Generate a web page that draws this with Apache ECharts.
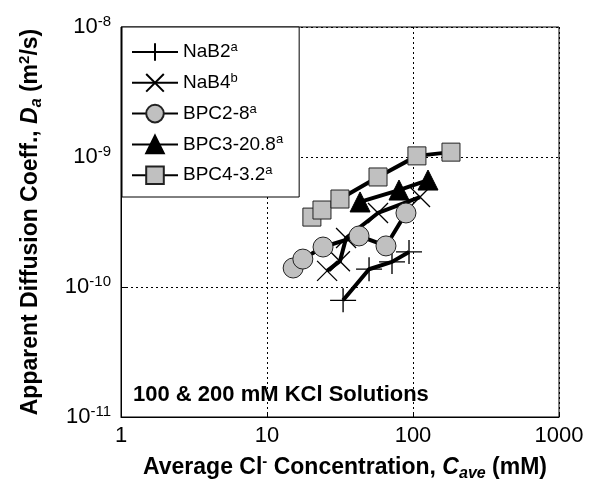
<!DOCTYPE html>
<html>
<head>
<meta charset="utf-8">
<script src="https://cdn.jsdelivr.net/npm/echarts@6/dist/echarts.min.js"></script>
<style>
html, body { margin: 0; padding: 0; background: #fff; }
#chart { width: 589px; height: 493px; }
</style>
</head>
<body>
<div id="chart"></div>
<script>
// series names and the superscript note of each
var seriesNames = ['NaB2', 'NaB4', 'BPC2-8', 'BPC3-20.8', 'BPC4-3.2'];
var seriesNotes = ['a', 'b', 'a', 'a', 'a'];

// Cave (mM) and Da (m2/s)
var nab2X = [33.2, 50, 71.8, 93.9];
var nab2Y = [7.9e-11, 1.37e-10, 1.56e-10, 1.86e-10];
var nab4X = [25.8, 31.6, 34.8, 57.6, 111.7];
var nab4Y = [1.33e-10, 1.58e-10, 2.38e-10, 3.71e-10, 4.92e-10];
var bpc2X = [15.1, 17.6, 24.2, 42.7, 65.3, 89.5];
var bpc2Y = [1.40e-10, 1.64e-10, 2.03e-10, 2.47e-10, 2.07e-10, 3.71e-10];
var bpc3X = [43.4, 80.2, 126.7];
var bpc3Y = [4.51e-10, 5.57e-10, 6.65e-10];
var bpc4X = [20.3, 23.8, 31.6, 57.6, 106.4, 182];
var bpc4Y = [3.45e-10, 3.91e-10, 4.75e-10, 7.02e-10, 1.02e-9, 1.09e-9];

var xTicks = [1, 10, 100, 1000];
var yTicks = [1e-11, 1e-10, 1e-9, 1e-8];

function pairs(xs, ys) {
  return xs.map(function (x, i) { return [x, ys[i]]; });
}

var plusPath = 'path://M10,0 L10,20 M0,10 L20,10';
var crossPath = 'path://M0,0 L20,20 M20,0 L0,20';

var titleRich = {
  b: { fontSize: 23, fontWeight: 'bold', lineHeight: 28, color: '#000' },
  i: { fontSize: 23, fontWeight: 'bold', fontStyle: 'italic', lineHeight: 28, color: '#000' },
  sup: { fontSize: 15, fontWeight: 'bold', lineHeight: 12, verticalAlign: 'top', color: '#000' },
  sub: { fontSize: 16, fontWeight: 'bold', fontStyle: 'italic', lineHeight: 12, verticalAlign: 'bottom', color: '#000' }
};

var dom = document.getElementById('chart');
var myChart = echarts.init(dom, null, { renderer: 'canvas' });

var option = {
  animation: false,
  textStyle: { fontFamily: 'Liberation Sans, Arial, sans-serif' },
  grid: {
    left: 121, right: 30, top: 27, bottom: 76,
    show: true, borderColor: '#000', borderWidth: 1
  },
  legend: {
    orient: 'vertical',
    left: 122, top: 27,
    padding: [14, 16, 12, 9],
    itemWidth: 46, itemHeight: 22, itemGap: 10,
    backgroundColor: '#fff',
    borderColor: '#000', borderWidth: 1,
    data: seriesNames,
    formatter: function (name) {
      return '{n|' + name + '}{s|' + seriesNotes[seriesNames.indexOf(name)] + '}';
    },
    textStyle: {
      color: '#000',
      rich: {
        n: { fontSize: 19, lineHeight: 22, color: '#000' },
        s: { fontSize: 13, lineHeight: 12, verticalAlign: 'top', color: '#000' }
      }
    }
  },
  xAxis: {
    type: 'log', logBase: 10, min: 1, max: 1000,
    name: '{b|Average Cl}{sup|-}{b| Concentration, }{i|C}{sub|ave}{b| (mM)}',
    nameLocation: 'middle', nameGap: 37,
    nameTextStyle: { color: '#000', padding: [0, 0, 0, 10], rich: titleRich },
    axisLine: { show: true, lineStyle: { color: '#000', width: 1 } },
    axisTick: { show: true, inside: true, length: 5, lineStyle: { color: '#000' } },
    minorTick: { show: false },
    axisLabel: {
      color: '#000', fontSize: 22, margin: 8,
      formatter: function (v) { return String(xTicks[Math.round(Math.log10(v))]); }
    },
    splitLine: { show: true, lineStyle: { color: '#000', type: [2, 3], width: 1 } }
  },
  yAxis: {
    type: 'log', logBase: 10, min: 1e-11, max: 1e-8,
    name: '{b|Apparent Diffusion Coeff., }{i|D}{sub|a}{b| (m}{sup|2}{b|/s)}',
    nameLocation: 'middle', nameGap: 76, nameRotate: 90,
    nameTextStyle: { color: '#000', rich: titleRich },
    axisLine: { show: true, lineStyle: { color: '#000', width: 1 } },
    axisTick: { show: true, inside: true, length: 5, lineStyle: { color: '#000' } },
    minorTick: { show: false },
    axisLabel: {
      margin: 10,
      formatter: function (v) {
        var e = Math.round(Math.log10(v));
        return '{b|10}{s|' + e + '}';
      },
      rich: {
        b: { fontSize: 22, lineHeight: 26, color: '#000' },
        s: { fontSize: 15, lineHeight: 14, verticalAlign: 'top', color: '#000' }
      }
    },
    splitLine: { show: true, lineStyle: { color: '#000', type: [2, 3], width: 1 } }
  },
  graphic: [{
    type: 'text', left: 133, top: 384, z: 10,
    style: {
      text: '100 & 200 mM KCl Solutions',
      font: 'bold 22px Liberation Sans, Arial, sans-serif',
      fill: '#000'
    }
  }],
  series: [
    {
      name: seriesNames[0], type: 'line', data: pairs(nab2X, nab2Y),
      symbol: plusPath, symbolSize: [26, 24], symbolKeepAspect: false,
      lineStyle: { color: '#000', width: 4 },
      itemStyle: { color: '#000', borderColor: '#000', borderWidth: 1.3 }
    },
    {
      name: seriesNames[1], type: 'line', data: pairs(nab4X, nab4Y),
      symbol: crossPath, symbolSize: 20,
      lineStyle: { color: '#000', width: 4 },
      itemStyle: { color: '#000', borderColor: '#000', borderWidth: 1.3 }
    },
    {
      name: seriesNames[2], type: 'line', data: pairs(bpc2X, bpc2Y),
      symbol: 'circle', symbolSize: 20,
      lineStyle: { color: '#000', width: 4 },
      itemStyle: { color: '#c0c0c0', borderColor: '#222', borderWidth: 1 }
    },
    {
      name: seriesNames[3], type: 'line', data: pairs(bpc3X, bpc3Y),
      symbol: 'triangle', symbolSize: 20,
      lineStyle: { color: '#000', width: 4 },
      itemStyle: { color: '#000', borderColor: '#000', borderWidth: 1 }
    },
    {
      name: seriesNames[4], type: 'line', data: pairs(bpc4X, bpc4Y),
      symbol: 'rect', symbolSize: 18,
      lineStyle: { color: '#000', width: 4 },
      itemStyle: { color: '#c0c0c0', borderColor: '#222', borderWidth: 1 }
    }
  ]
};

myChart.setOption(option);
window.addEventListener('resize', myChart.resize);
</script>
</body>
</html>
